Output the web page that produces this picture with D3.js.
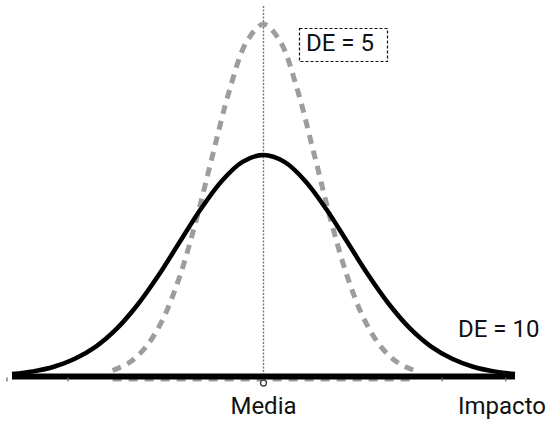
<!DOCTYPE html>
<html>
<head>
<meta charset="utf-8">
<script src="https://cdn.jsdelivr.net/npm/d3@7/dist/d3.min.js"></script>
<style>
  html, body { margin: 0; padding: 0; background: #fff; }
  svg { display: block; }
  text { font-family: Roboto, "Noto Sans", sans-serif; fill: #111; }
</style>
</head>
<body>
<div id="chart"></div>
<script>
// ---- data ----
const xLabels = ["Media", "Impacto"];
const seriesNames = ["DE = 10", "DE = 5"];

// DE = 10 curve (black, solid): positions in impact units, heights relative to its peak
const xDE10 = [-30, -27.5, -25, -22.5, -20, -17.5, -15, -12.5, -10, -7.5, -5, -2.5, 0,
               2.5, 5, 7.5, 10, 12.5, 15, 17.5, 20, 22.5, 25, 27.5, 30];
const yDE10 = [0.011, 0.023, 0.044, 0.080, 0.135, 0.216, 0.325, 0.458, 0.607, 0.755, 0.882, 0.969, 1.0,
               0.969, 0.882, 0.755, 0.607, 0.458, 0.325, 0.216, 0.135, 0.080, 0.044, 0.023, 0.011];

// DE = 5 curve (grey, dashed)
const xDE5 = [-18, -16, -14, -12, -10, -8, -6, -4, -2, 0, 2, 4, 6, 8, 10, 12, 14, 16, 18];
const yDE5 = [0.027, 0.063, 0.135, 0.259, 0.451, 0.710, 1.010, 1.300, 1.512, 1.59,
              1.512, 1.300, 1.010, 0.710, 0.451, 0.259, 0.135, 0.063, 0.027];

const axisExtent = [-30, 30];
const tickValues = [-30.6, -23.3, 21.3, 28.9];
const meanValue = 0;

// ---- drawing ----
const W = 549, H = 422;
const svg = d3.select("#chart").append("svg").attr("width", W).attr("height", H);
svg.append("rect").attr("width", W).attr("height", H).attr("fill", "#fff");

const x = d3.scaleLinear().domain([-30, 30]).range([12, 515]);
const y = d3.scaleLinear().domain([0, 1]).range([376.5, 155]);

const line = d3.line().x(d => x(d[0])).y(d => y(d[1])).curve(d3.curveCatmullRom.alpha(0.5));

// vertical dotted mean line
svg.append("line")
  .attr("x1", x(meanValue)).attr("x2", x(meanValue))
  .attr("y1", 6).attr("y2", y(0))
  .attr("stroke", "#777").attr("stroke-width", 1.4).attr("stroke-dasharray", "2,1.5");

// grey dashed curve (DE = 5)
const grey = "#9d9d9d";
svg.append("path")
  .datum(xDE5.map((v, i) => [v, yDE5[i]]))
  .attr("d", line)
  .attr("fill", "none").attr("stroke", grey).attr("stroke-width", 5)
  .attr("stroke-dasharray", "9,7");
svg.append("line")
  .attr("x1", x(xDE5[0])).attr("x2", x(xDE5[xDE5.length - 1]))
  .attr("y1", y(0) + 3).attr("y2", y(0) + 3)
  .attr("stroke", grey).attr("stroke-width", 4).attr("stroke-dasharray", "9,7");

// black solid curve (DE = 10)
svg.append("path")
  .datum(xDE10.map((v, i) => [v, yDE10[i]]))
  .attr("d", line)
  .attr("fill", "none").attr("stroke", "#000").attr("stroke-width", 4.5);

// baseline axis
svg.append("line")
  .attr("x1", x(axisExtent[0])).attr("x2", x(axisExtent[1]))
  .attr("y1", y(0)).attr("y2", y(0))
  .attr("stroke", "#000").attr("stroke-width", 6);

// small ticks
svg.selectAll("line.tick").data(tickValues).enter().append("line")
  .attr("class", "tick")
  .attr("x1", d => x(d)).attr("x2", d => x(d))
  .attr("y1", y(0) + 1).attr("y2", y(0) + 5)
  .attr("stroke", "#666").attr("stroke-width", 1.2);

// mean marker circle
svg.append("circle")
  .attr("cx", x(meanValue)).attr("cy", y(0) + 6.5).attr("r", 3)
  .attr("fill", "#fff").attr("stroke", "#444").attr("stroke-width", 1.4);

// labels
svg.append("text").attr("x", x(meanValue)).attr("y", 414)
  .attr("text-anchor", "middle").attr("font-size", 24).text(xLabels[0]);
svg.append("text").attr("x", 458).attr("y", 414)
  .attr("font-size", 24).text(xLabels[1]);
svg.append("text").attr("x", 458).attr("y", 337)
  .attr("font-size", 24).text(seriesNames[0]);

// DE = 5 boxed label
svg.append("rect").attr("x", 299.5).attr("y", 28.5).attr("width", 88).attr("height", 33)
  .attr("fill", "#fff").attr("stroke", "#111").attr("stroke-width", 1.2)
  .attr("stroke-dasharray", "3,2");
svg.append("text").attr("x", 306).attr("y", 51)
  .attr("font-size", 24).text(seriesNames[1]);
</script>
</body>
</html>
